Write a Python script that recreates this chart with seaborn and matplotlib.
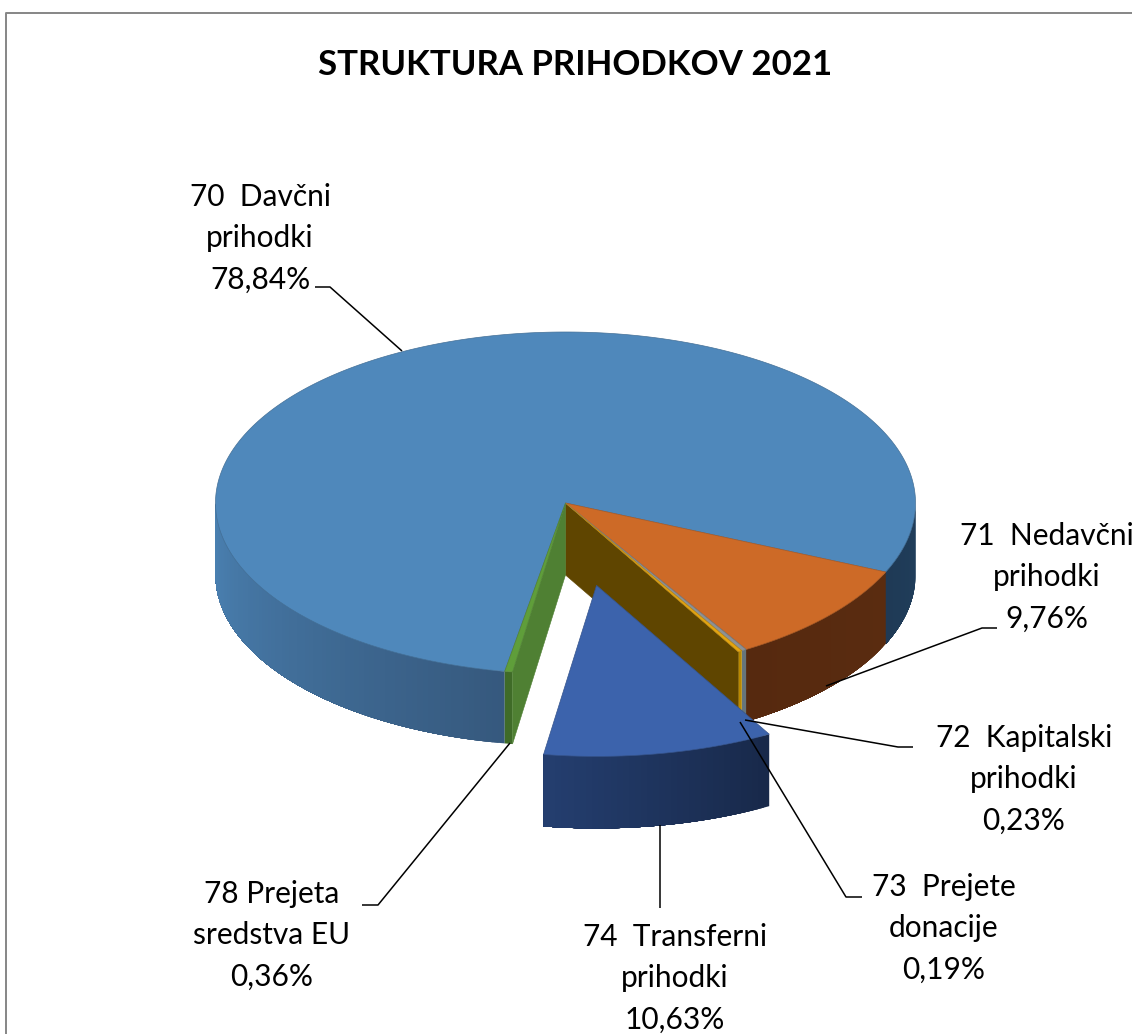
import numpy as np
import pandas as pd
import seaborn as sns
import matplotlib.pyplot as plt

title = "STRUKTURA PRIHODKOV 2021"
codes = ["70", "71", "72", "73", "74", "78"]
labels = ["70  Davčni\nprihodki\n78,84%", "71  Nedavčni\nprihodki\n9,76%",
          "72  Kapitalski\nprihodki\n0,23%", "73  Prejete\ndonacije\n0,19%",
          "74  Transferni\nprihodki\n10,63%", "78 Prejeta\nsredstva EU\n0,36%"]
shares = [78.84, 9.76, 0.23, 0.19, 10.63, 0.36]
top_colors = ["#4F88BB", "#CD6A27", "#8E9194", "#E5A50F", "#3C63AC", "#5F9E3A"]
wall_colors = {
    "70": [("#36597E", "#4B82B3"), ("#203E5B", "#1F3A56")],
    "71": [("#5A2C10", "#56290F")],
    "72": [("#66757C", "#66757C")],
    "73": [("#B98800", "#B98800")],
    "74": [("#18294A", "#243E6F")],
    "78": [("#3F6B28", "#3F6B28")],
}
cut_colors = {"73": "#5F4500", "78": "#4F8033"}
exploded = ["74"]

label_xy = [(260, 238), (1047, 577), (1024, 779), (944, 928), (675, 978), (272, 935)]
leaders = [
    [(315, 287), (330, 287), (402, 351)],
    [(997, 628), (982, 628), (826, 686)],
    [(913, 747), (898, 747), (745, 720)],
    [(862, 897), (846, 897), (740, 722)],
    [(660, 908), (660, 825)],
    [(362, 905), (378, 905), (510, 743)],
]

CX, CY = 565.5, 503
RX, RY = 350, 171
DEPTH = 72
START = 100.0
EXPLODE = 0.49


def rim(angles, dx=0, dy=0):
    t = np.radians(angles)
    return np.column_stack([CX + dx + RX * np.cos(t), CY + dy + RY * np.sin(t)])


def draw_cut(ax, angle, color):
    p = rim(np.array([angle]))[0]
    ax.fill([CX, p[0], p[0], CX], [CY, p[1], p[1] + DEPTH, CY + DEPTH], color=color, lw=0.4)


def visible_parts(a0, a1):
    # only the front half of the rim can be seen
    a0, a1 = (a0 - 360, a1 - 360) if a0 >= 360 else (a0, a1)
    parts = []
    if a0 < 180:
        parts.append((a0, min(a1, 180)))
    if a1 > 360:
        parts.append((360, a1))
    return parts


def draw_wall(ax, code, a0, a1, dx=0, dy=0):
    for (lo, hi), (c0, c1) in zip(visible_parts(a0, a1), wall_colors[code]):
        n = max(int(hi - lo), 1)
        steps = np.linspace(lo, hi, n + 1)
        pal = sns.blend_palette([c0, c1], n)
        # every piece runs on to the end of the wall and the next one paints over it
        for s0, color in zip(steps[:-1], pal):
            arc = rim(np.linspace(s0, hi, 120), dx, dy)
            outline = np.vstack([arc, arc[::-1] + [0, DEPTH]])
            ax.fill(outline[:, 0], outline[:, 1], color=color, lw=0)


def draw_top(ax, a0, a1, color, dx=0, dy=0):
    arc = rim(np.linspace(a0, a1, 400), dx, dy)
    xs = np.r_[CX + dx, arc[:, 0]]
    ys = np.r_[CY + dy, arc[:, 1]]
    ax.fill(xs, ys, facecolor=color, edgecolor=sns.dark_palette(color, 5)[3], lw=0.5)


sns.set_theme(style="white")
plt.rcParams['font.family'] = ['Lato', 'DejaVu Sans']

df = pd.DataFrame({"code": codes, "share": shares})
df["sweep"] = df["share"] / df["share"].sum() * 360
df["a0"] = START + df["sweep"].cumsum().shift(fill_value=0)
df["a1"] = df["a0"] + df["sweep"]
df["mid"] = (df["a0"] + df["a1"]) / 2

fig = plt.figure(figsize=(11.32, 10.34), dpi=100)
ax = fig.add_axes([0, 0, 1, 1])
ax.set_xlim(0, 1132)
ax.set_ylim(1034, 0)
ax.axis("off")

ax.plot([6, 6, 1132], [1034, 13, 13], color="#868686", lw=1.4)

# pie body that stays in place, walls first, tops last
rest = df[~df["code"].isin(exploded)]
for _, r in rest.iterrows():
    draw_wall(ax, r["code"], r["a0"], r["a1"])
draw_cut(ax, df.loc[df["code"] == "73", "a1"].iloc[0], cut_colors["73"])
draw_cut(ax, df.loc[df["code"] == "78", "a0"].iloc[0], cut_colors["78"])
for i, r in rest.iterrows():
    draw_top(ax, r["a0"], r["a1"], top_colors[i])

# slice pulled out of the pie
for i, r in df[df["code"].isin(exploded)].iterrows():
    t = np.radians(r["mid"])
    dx, dy = EXPLODE * RX * np.cos(t), EXPLODE * RY * np.sin(t)
    draw_wall(ax, r["code"], r["a0"], r["a1"], dx, dy)
    draw_top(ax, r["a0"], r["a1"], top_colors[i], dx, dy)

for pts in leaders:
    xs, ys = zip(*pts)
    ax.plot(xs, ys, color="black", lw=1.1, solid_capstyle="butt")

ax.text(575, 65, title, ha="center", va="center", fontsize=25, fontweight="bold", color="black")
for text, (x, y) in zip(labels, label_xy):
    ax.text(x, y, text, ha="center", va="center", fontsize=21.5, linespacing=1.58,
            color="black", clip_on=True)

plt.savefig("out.png", dpi=100)
